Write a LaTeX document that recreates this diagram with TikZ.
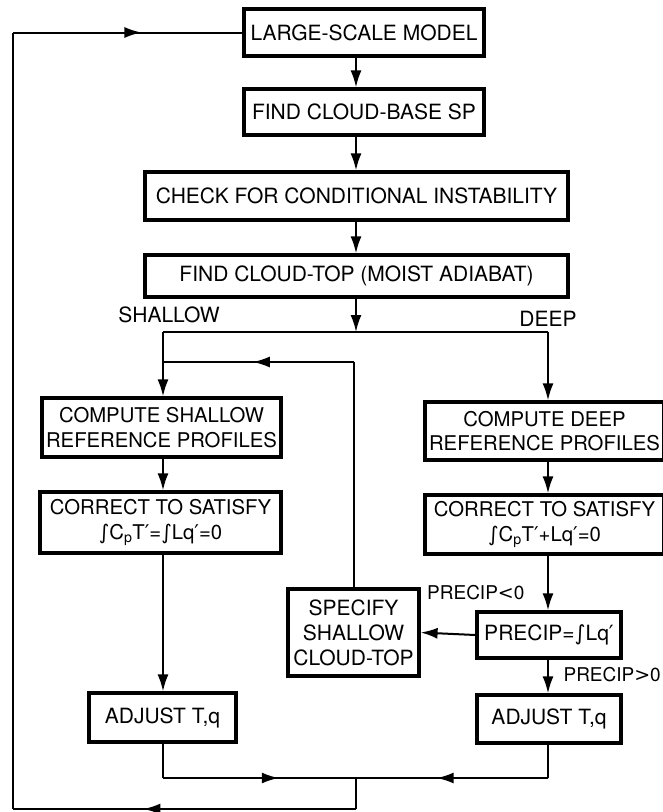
\documentclass[tikz,border=0pt]{standalone}
\usepackage{fontspec}
\setmainfont{TeX Gyre Heros}
\newfontfamily\symf{DejaVu Sans}
\usetikzlibrary{arrows.meta,decorations.markings}
\newcommand{\intg}{{\symf ∫}}
\newcommand{\prm}{{\symf ′}}
\begin{document}
\begin{tikzpicture}[x=1pt,y=-1pt,
  box/.style={draw, line width=3.2pt, font=\fontsize{21}{25}\selectfont, inner sep=0pt, align=center},
  tbox/.style={box, font=\fontsize{20.3}{24.5}\selectfont},
  lbl/.style={font=\fontsize{21}{25}\selectfont, inner sep=0pt},
  plbl/.style={font=\fontsize{19}{22}\selectfont, inner sep=0pt},
  conn/.style={line width=2pt},
  arr/.style={conn, -{Latex[length=17pt,width=11pt]}},
  midarr/.style={conn, postaction={decorate}, decoration={markings, mark=at position #1 with {\arrow{Latex[length=17pt,width=11pt]}}}}
]
\useasboundingbox (0,0) rectangle (663,812);

% nodes
\node[box, minimum width=240pt, minimum height=47pt] (lsm) at (364,32.5) {LARGE-SCALE MODEL};
\node[box, minimum width=240pt, minimum height=46pt] (fcb) at (364,112) {FIND CLOUD-BASE SP};
\node[box, minimum width=423pt, minimum height=48pt] (chk) at (356.5,196) {CHECK FOR CONDITIONAL INSTABILITY};
\node[box, minimum width=423pt, minimum height=42pt] (fct) at (356.5,276) {FIND CLOUD-TOP (MOIST ADIABAT)};
\node[tbox, minimum width=239pt, minimum height=59pt] (csh) at (161.5,427.5) {COMPUTE SHALLOW\\REFERENCE PROFILES};
\node[tbox, minimum width=241pt, minimum height=61pt] (ssh) at (160.5,522.5) {CORRECT TO SATISFY\\\intg C\textsubscript{p}T\prm=\intg Lq\prm=0};
\node[tbox, minimum width=239pt, minimum height=58pt] (cdp) at (544.5,431) {COMPUTE DEEP\\REFERENCE PROFILES};
\node[tbox, minimum width=239pt, minimum height=59pt] (sdp) at (544.5,524.5) {CORRECT TO SATISFY\\\intg C\textsubscript{p}T\prm+Lq\prm=0};
\node[box, minimum width=144pt, minimum height=46pt] (prc) at (549,635) {PRECIP=\intg Lq\prm};
\node[box, minimum width=131pt, minimum height=87pt] (spc) at (353.5,632.5) {SPECIFY\\SHALLOW\\CLOUD-TOP};
\node[box, minimum width=147pt, minimum height=49pt] (adl) at (162.5,717.5) {ADJUST T,q};
\node[box, minimum width=144pt, minimum height=48pt] (adr) at (549,719) {ADJUST T,q};

% labels
\node[lbl] (lsh) at (169,315) {SHALLOW};
\node[lbl] (ldp) at (548,319) {DEEP};
\node[plbl, anchor=west] (lneg) at (427,593) {PRECIP{\symf <}0};
\node[plbl, anchor=east] (lpos) at (661,675) {PRECIP{\symf >}0};

% coordinates
\coordinate (cx) at (356,0);
\coordinate (lx) at (163,0);
\coordinate (rx) at (548,0);
\coordinate (split) at (356,332);
\coordinate (splitL) at (163,332);
\coordinate (splitR) at (548,332);
\coordinate (retT) at (354,362);
\coordinate (retL) at (163,362);
\coordinate (mrgL) at (163,778);
\coordinate (mrgR) at (548,778);
\coordinate (mrg) at (356,778);
\coordinate (bot) at (356,809);
\coordinate (botL) at (13,809);
\coordinate (topL) at (13,32.5);

% main flow
\draw[arr] (lsm.south -| cx) -- (fcb.north -| cx);
\draw[arr] (fcb.south -| cx) -- (chk.north -| cx);
\draw[arr] (chk.south -| cx) -- (fct.north -| cx);
\draw[arr] (fct.south -| cx) -- (split);
\draw[conn] (splitL) -- (splitR);
\draw[arr] (splitL) -- (csh.north -| lx);
\draw[arr] (splitR) -- (cdp.north -| rx);
\draw[arr] (csh.south -| lx) -- (ssh.north -| lx);
\draw[arr] (ssh.south -| lx) -- (adl.north -| lx);
\draw[arr] (cdp.south -| rx) -- (sdp.north -| rx);
\draw[arr] (sdp.south -| rx) -- (prc.north -| rx);
\draw[arr] (prc.west) -- (spc.east);
\draw[arr] (prc.south -| rx) -- (adr.north -| rx);

% return from specify
\draw[conn] (spc.north -| retT) -- (retT);
\draw[midarr=0.53] (retT) -- (retL);

% merge
\draw[conn] (adl.south -| lx) -- (mrgL);
\draw[midarr=0.6] (mrgL) -- (mrg);
\draw[conn] (adr.south -| rx) -- (mrgR);
\draw[midarr=0.58] (mrgR) -- (mrg);

% outer loop
\draw[conn] (mrg) -- (bot);
\draw[midarr=0.62] (bot) -- (botL);
\draw[conn] (botL) -- (topL);
\draw[midarr=0.56] (topL) -- (lsm.west);
\end{tikzpicture}
\end{document}
